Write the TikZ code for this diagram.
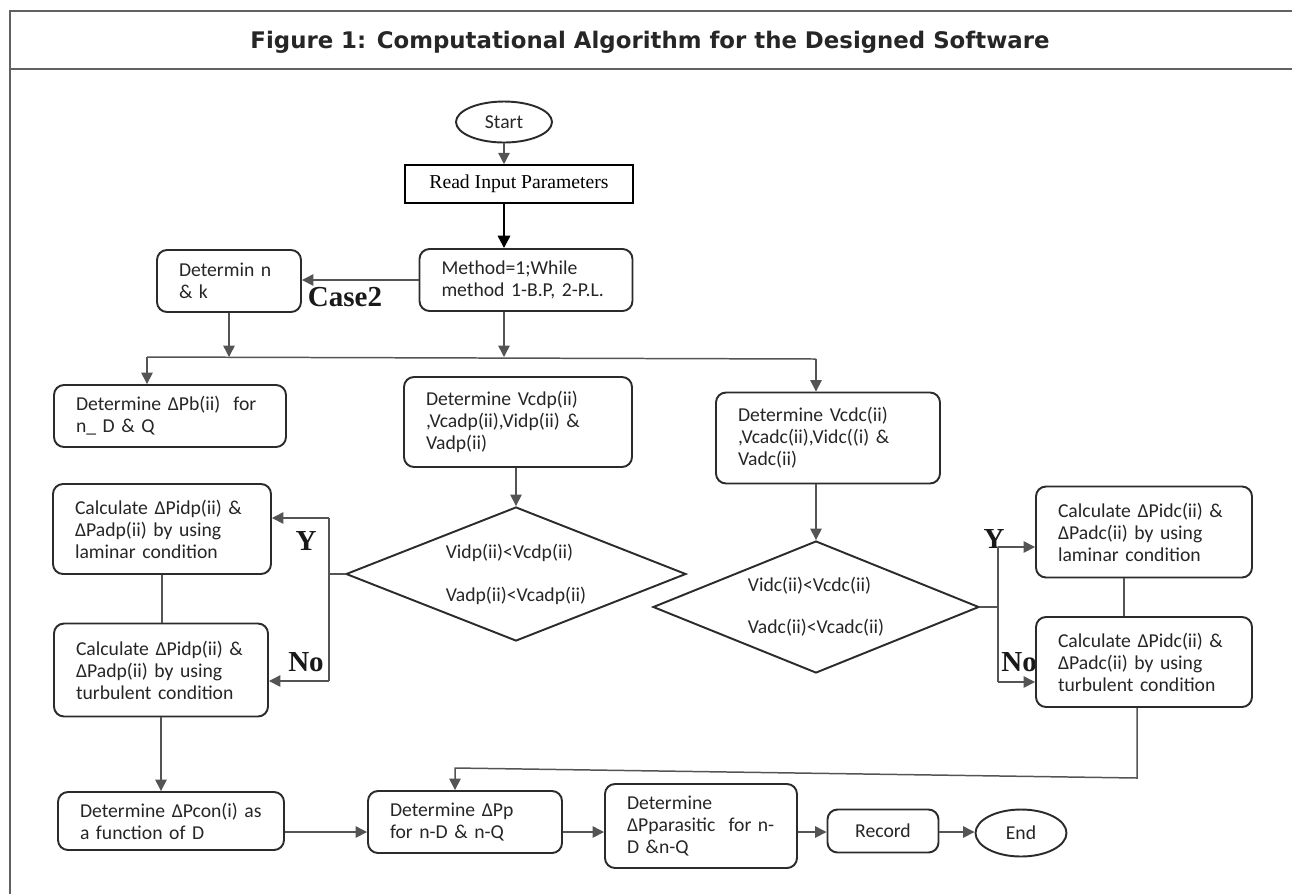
\documentclass[tikz,border=0pt]{standalone}
\usepackage{fontspec}
\setmainfont{Carlito}
\newfontfamily\timesFont{Liberation Serif}
\newfontfamily\headFont{DejaVu Sans}
\usepackage{tikz}
\usetikzlibrary{
  arrows.meta,
  positioning,
  shapes.geometric
}
\usepackage{xcolor}
\definecolor{edgeGray}{rgb}{0.17,0.17,0.17}
\definecolor{lineGray}{rgb}{0.33,0.33,0.33}
\definecolor{frameGray}{rgb}{0.38,0.38,0.38}
\newdimen\pxu
\pxu=0.02cm
\newcommand{\bodyFont}{\fontsize{11.2}{12.5}\selectfont}
\newcommand{\tagFont}{\timesFont\bfseries\fontsize{16.5}{18}\selectfont}
\tikzset{
  proc/.style={
    rectangle,
    rounded corners=10\pxu,
    draw=edgeGray,
    line width=1.1pt,
    fill=white,
    inner xsep=22\pxu,
    inner ysep=0pt,
    align=left,
    text=black!85,
    font=\bodyFont
  }
}
\tikzset{
  term/.style={
    ellipse,
    draw=edgeGray,
    line width=1.1pt,
    inner sep=0pt,
    text=black!85,
    font=\bodyFont
  }
}
\tikzset{
  test/.style={
    diamond,
    draw=edgeGray,
    line width=1.1pt,
    aspect=2.5,
    inner sep=0pt,
    align=left,
    text=black!85,
    font=\bodyFont
  }
}
\tikzset{
  link/.style={draw=lineGray, line width=0.85pt},
  flow/.style={link, -{Triangle[length=6.5pt,width=6.5pt]}},
  tag/.style={font=\tagFont, inner sep=0pt, text=black!90}
}

\begin{document}
\begin{tikzpicture}[x=0.02cm, y=-0.02cm]
    \useasboundingbox (0,0) rectangle (1292,894);
    \draw[frameGray, line width=0.9pt] (10,894) -- (10,11) -- (1292,11);
    \draw[frameGray, line width=0.9pt] (10,69) -- (1292,69);
    \node[font=\headFont\bfseries\fontsize{13}{15}\selectfont, text=black!85]
      (title) at (650,42) {Figure 1: Computational Algorithm for the Designed Software};

    \node[term, minimum width=96\pxu, minimum height=41\pxu] (start) at (504,122) {Start};
    \node[draw=black, line width=0.9pt, minimum width=228\pxu, minimum height=38\pxu,
      font=\timesFont\fontsize{11.2}{13}\selectfont] (read) at (519,184) {Read Input Parameters};
    \node[proc, text width=169\pxu, minimum height=62\pxu] (method) at (526,280)
      {Method=1;While\\method 1-B.P, 2-P.L.};
    \node[proc, text width=100\pxu, minimum height=62\pxu] (detn) at (229,281)
      {Determin n\\\& k};
    \node[proc, text width=188\pxu, minimum height=62\pxu] (dpb) at (170,416)
      {Determine ΔPb(ii)\ \ for\\n\_ D \& Q};
    \node[proc, text width=184\pxu, minimum height=90\pxu] (vcdp) at (518,422)
      {Determine Vcdp(ii)\\,Vcadp(ii),Vidp(ii) \&\\Vadp(ii)};
    \node[proc, text width=180\pxu, minimum height=91\pxu] (vcdc) at (828,438)
      {Determine Vcdc(ii)\\,Vcadc(ii),Vidc((i) \&\\Vadc(ii)};
    \node[test, minimum width=340\pxu, minimum height=134\pxu] (decp) at (516,574)
      {Vidp(ii)<Vcdp(ii)\\[12pt]Vadp(ii)<Vcadp(ii)};
    \node[test, minimum width=326\pxu, minimum height=132\pxu] (decc) at (816,607)
      {Vidc(ii)<Vcdc(ii)\\[11.5pt]Vadc(ii)<Vcadc(ii)};

    \node[tag] (case) at (345,297) {Case2};
    \node[tag] (yesL) at (306,541) {Y};
    \node[tag] (noL) at (306,662) {No};
    \node[tag] (yesR) at (994,539) {Y};
    \node[tag, anchor=west] (noR) at (1001,662) {No};

    \node[proc, text width=174\pxu, minimum height=90\pxu] (lamL) at (162,529)
      {Calculate ΔPidp(ii) \&\\ΔPadp(ii) by using\\laminar condition};
    \node[proc, text width=170\pxu, minimum height=93\pxu] (turL) at (161,670)
      {Calculate ΔPidp(ii) \&\\ΔPadp(ii) by using\\turbulent condition};
    \node[proc, text width=172\pxu, minimum height=91\pxu] (lamR) at (1144,532)
      {Calculate ΔPidc(ii) \&\\ΔPadc(ii) by using\\laminar condition};
    \node[proc, text width=172\pxu, minimum height=90\pxu] (turR) at (1144,662)
      {Calculate ΔPidc(ii) \&\\ΔPadc(ii) by using\\turbulent condition};
    \node[proc, text width=182\pxu, minimum height=58\pxu] (pcon) at (171,821)
      {Determine ΔPcon(i) as\\a function of D};
    \node[proc, text width=150\pxu, minimum height=62\pxu] (ppNode) at (465,822)
      {Determine ΔPp\\for n-D \& n-Q};
    \node[proc, text width=148\pxu, minimum height=84\pxu] (para) at (701,826)
      {Determine\\ΔPparasitic\ \ for n-\\D \&n-Q};
    \node[proc, inner xsep=0pt, align=center, minimum width=111\pxu, minimum height=43\pxu]
      (rec) at (883,831) {Record};
    \node[term, minimum width=91\pxu, minimum height=47\pxu] (endNode) at (1021,833) {End};

    \coordinate (brL) at (147,357);
    \coordinate (brR) at (816,359);
    \coordinate (yL) at (329,518);
    \coordinate (nL) at (329,681);
    \coordinate (yR) at (998,547);
    \coordinate (nR) at (998,682);
    \coordinate (fbR) at (1137,778);
    \coordinate (fbL) at (455,768);
    \coordinate (row) at (0,832);

    \draw[flow] (start) -- (start |- read.north);
    \draw[-{Triangle[length=7pt,width=7pt]}, line width=1.3pt]
      (read.south -| start) -- (method.north -| start);
    \draw[flow] (method.west) -- (method.west -| detn.east);
    \draw[flow] (detn.south) -- (detn.south |- brL);
    \draw[flow] (method.south -| start) -- (start |- brL);
    \draw[link] (brL) -- (brR);
    \draw[flow] (brL) -- (brL |- dpb.north);
    \draw[flow] (brR) -- (brR |- vcdc.north);
    \draw[flow] (vcdp.south -| decp.north) -- (decp.north);
    \draw[flow] (vcdc.south -| decc.north) -- (decc.north);

    \draw[link] (decp.west) -- (decp.west -| yL);
    \draw[link] (yL) -- (nL);
    \draw[flow] (yL) -- (yL -| lamL.east);
    \draw[flow] (nL) -- (nL -| turL.east);
    \draw[link] (decc.east) -- (decc.east -| yR);
    \draw[link] (yR) -- (nR);
    \draw[flow] (yR) -- (yR -| lamR.west);
    \draw[flow] (nR) -- (nR -| turR.west);

    \draw[link] (lamL.south) -- (lamL.south |- turL.north);
    \draw[link] ([xshift=-20\pxu]lamR.south) -- ([xshift=-20\pxu]lamR.south |- turR.north);
    \draw[flow] (turL.south) -- (turL.south |- pcon.north);
    \draw[flow] (turR.south -| fbR) -- (fbR) -- (fbL) -- (fbL |- ppNode.north);
    \foreach \src/\dst in {pcon/ppNode, ppNode/para, para/rec, rec/endNode}{
      \draw[flow] (\src.east |- row) -- (\dst.west |- row);
    }
\end{tikzpicture}
\end{document}
